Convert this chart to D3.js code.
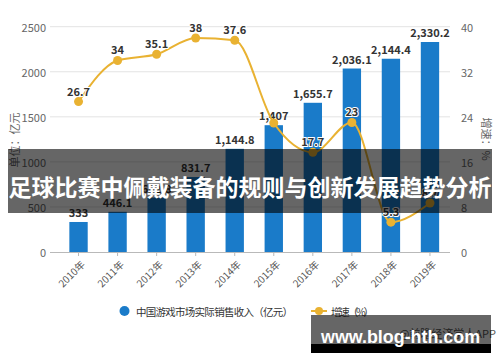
<!DOCTYPE html>
<html><head><meta charset="utf-8">
<script src="https://cdn.jsdelivr.net/npm/d3@7"></script>
<style>
body{margin:0;background:#fff;}
svg{display:block;font-family:"Noto Sans CJK SC","Noto Sans",sans-serif;}
</style>
</head><body><svg id="c" width="500" height="362"></svg>
<script>
const years = ["2010年","2011年","2012年","2013年","2014年","2015年","2016年","2017年","2018年","2019年"];
const revenue = [333,446.1,602.8,831.7,1144.8,1407,1655.7,2036.1,2144.4,2330.2];
const growth = [26.7,34,35.1,38,37.6,22.9,17.7,23,5.3,8.7];
const leftTicks = [0,500,1000,1500,2000,2500];
const rightTicks = [0,8,16,24,32,40];
const hiddenGrowthLabels = ["2015年"];
const legendNames = ["中国游戏市场实际销售收入（亿元）","增速（%）"];
const title = "足球比赛中佩戴装备的规则与创新发展趋势分析";

const BLUE = "#1a7bc9", GOLD = "#e9b232";
const svg = d3.select("#c");

const x = d3.scaleBand().domain(years).range([59,449.5]).paddingInner(0.53).paddingOuter(0.265);
const yL = d3.scaleLinear().domain([0,2500]).range([252,26.7]);
const yR = d3.scaleLinear().domain([0,40]).range([252,26.7]);

// grid
svg.append("g").selectAll("line").data(leftTicks.slice(1)).join("line")
  .attr("x1",50).attr("x2",450).attr("y1",d=>yL(d)).attr("y2",d=>yL(d))
  .attr("stroke","#e3e3e3").attr("stroke-width",1);

// bars
svg.append("g").selectAll("rect").data(revenue).join("rect")
  .attr("x",(d,i)=>x(years[i])).attr("width",x.bandwidth())
  .attr("y",d=>yL(d)).attr("height",d=>yL(0)-yL(d)).attr("fill",BLUE);

// bar labels
svg.append("g").selectAll("text").data(revenue).join("text")
  .attr("x",(d,i)=>x(years[i])+x.bandwidth()/2).attr("y",d=>yL(d)-5)
  .attr("text-anchor","middle").attr("font-size",11).attr("font-weight","bold").attr("fill","#333")
  .text(d=>d3.format(",")(d));

// line
const cx = (i)=>x(years[i])+x.bandwidth()/2;
const line = d3.line().x((d,i)=>cx(i)).y(d=>yR(d)).curve(d3.curveMonotoneX);
svg.append("path").datum(growth).attr("d",line).attr("fill","none").attr("stroke",GOLD).attr("stroke-width",2);
svg.append("g").selectAll("circle").data(growth).join("circle")
  .attr("cx",(d,i)=>cx(i)).attr("cy",d=>yR(d)).attr("r",4.5).attr("fill",GOLD);
svg.append("g").selectAll("text").data(growth.map((g,i)=>({g,i})).filter(o=>!hiddenGrowthLabels.includes(years[o.i]))).join("text")
  .attr("x",o=>cx(o.i)).attr("y",o=>yR(o.g)-6)
  .attr("text-anchor","middle").attr("font-size",11).attr("font-weight","bold").attr("fill","#333")
  .attr("stroke","#fff").attr("stroke-width",2).attr("paint-order","stroke")
  .text(o=>o.g);

// x axis
svg.append("line").attr("x1",50).attr("x2",450).attr("y1",252.5).attr("y2",252.5).attr("stroke","#b9b9b9");
svg.append("g").selectAll("line").data(years).join("line")
  .attr("x1",d=>x(d)+x.bandwidth()/2).attr("x2",d=>x(d)+x.bandwidth()/2)
  .attr("y1",252.5).attr("y2",256).attr("stroke","#b9b9b9");
svg.append("g").selectAll("text").data(years).join("text")
  .attr("transform",d=>`translate(${x(d)+x.bandwidth()/2+4},${262}) rotate(-45)`)
  .attr("text-anchor","end").attr("dominant-baseline","central")
  .attr("font-size",10).attr("fill","#555").text(d=>d);

// y axes
svg.append("g").selectAll("text").data(leftTicks).join("text")
  .attr("x",46).attr("y",d=>yL(d)).attr("dominant-baseline","central").attr("text-anchor","end")
  .attr("font-size",11).attr("fill","#666").text(d=>d);
svg.append("g").selectAll("text").data(rightTicks).join("text")
  .attr("x",461).attr("y",d=>yR(d)).attr("dominant-baseline","central").attr("text-anchor","start")
  .attr("font-size",11).attr("fill","#666").text(d=>d);
svg.append("text").attr("transform","translate(14,140) rotate(-90)").attr("text-anchor","middle")
  .attr("dominant-baseline","central").attr("font-size",11).attr("fill","#666").text("单位：亿元");
svg.append("text").attr("transform","translate(487,139) rotate(90)").attr("text-anchor","middle")
  .attr("dominant-baseline","central").attr("font-size",11).attr("fill","#666").text("增速：%");

// legend
svg.append("circle").attr("cx",124.5).attr("cy",311).attr("r",5).attr("fill",BLUE);
svg.append("text").attr("x",136).attr("y",311).attr("dominant-baseline","central")
  .attr("font-size",10.5).attr("fill","#333").attr("textLength",157).text(legendNames[0]);
svg.append("line").attr("x1",311).attr("x2",327).attr("y1",311).attr("y2",311).attr("stroke",GOLD).attr("stroke-width",2);
svg.append("circle").attr("cx",319).attr("cy",311).attr("r",4).attr("fill",GOLD);
svg.append("text").attr("x",331).attr("y",311).attr("dominant-baseline","central")
  .attr("font-size",10.5).attr("fill","#333").attr("textLength",43).text(legendNames[1]);

// source
svg.append("text").attr("x",496).attr("y",333).attr("text-anchor","end").attr("dominant-baseline","central")
  .attr("font-size",11).attr("fill","#555").text("@前瞻经济学人APP");

// title band
svg.append("rect").attr("x",8).attr("y",149).attr("width",484).attr("height",64).attr("fill","#000").attr("opacity",0.6);
svg.append("text").attr("x",250).attr("y",186).attr("text-anchor","middle").attr("dominant-baseline","central")
  .attr("font-size",23).attr("font-weight","bold").attr("fill","#fff").text(title);

// bottom watermark box
svg.append("rect").attr("x",311).attr("y",315).attr("width",180).attr("height",29).attr("fill","#000").attr("opacity",0.6);
svg.append("rect").attr("x",311).attr("y",344).attr("width",180).attr("height",9).attr("fill","#000");
svg.append("text").attr("x",321).attr("y",336).attr("dominant-baseline","central")
  .attr("font-family","'Liberation Sans',sans-serif").attr("font-size",19).attr("font-weight","bold")
  .attr("fill","#fff").attr("textLength",159).attr("lengthAdjust","spacingAndGlyphs").text("www.blog-hth.com");
</script>
</body></html>
